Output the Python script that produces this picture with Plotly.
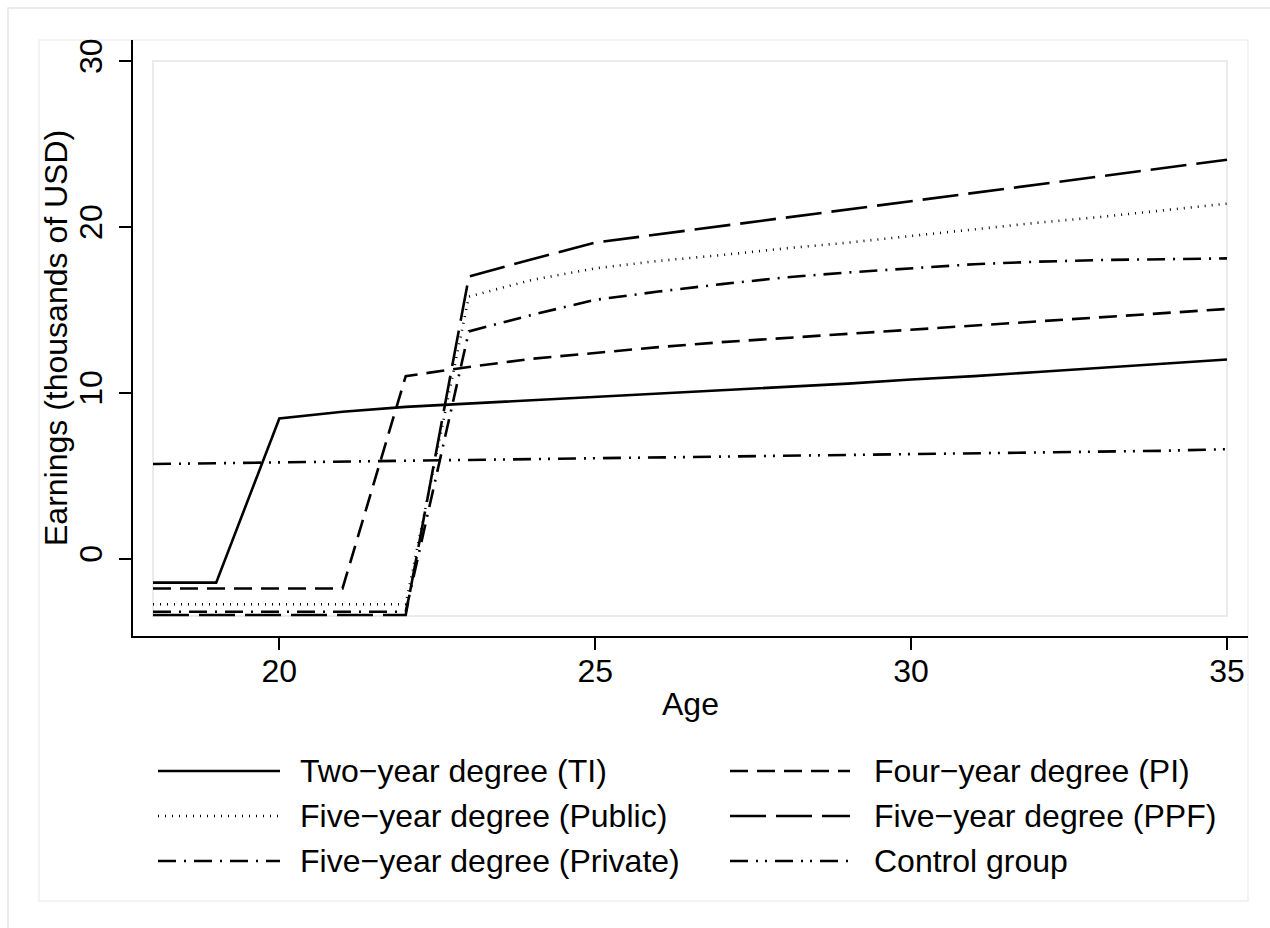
import plotly.graph_objects as go

# Age profile of earnings by degree type (thousands of USD)
ages = list(range(18, 36))

two_year_ti = [-1.45, -1.45, 8.45, 8.85, 9.15, 9.35, 9.55, 9.75, 9.95, 10.15,
               10.35, 10.55, 10.8, 11.0, 11.25, 11.5, 11.75, 12.0]
four_year_pi = [-1.8, -1.8, -1.8, -1.8, 11.0, 11.55, 12.05, 12.4, 12.75, 13.05,
                13.3, 13.55, 13.8, 14.05, 14.3, 14.55, 14.8, 15.05]
five_year_public = [-2.75, -2.75, -2.75, -2.75, -2.75, 15.8, 16.8, 17.5, 17.95, 18.3,
                    18.7, 19.05, 19.45, 19.85, 20.25, 20.6, 21.0, 21.4]
five_year_ppf = [-3.4, -3.4, -3.4, -3.4, -3.4, 17.0, 18.05, 19.05, 19.55, 20.05,
                 20.55, 21.05, 21.55, 22.05, 22.55, 23.05, 23.55, 24.05]
five_year_private = [-3.2, -3.2, -3.2, -3.2, -3.2, 13.7, 14.7, 15.6, 16.1, 16.55,
                     16.95, 17.25, 17.5, 17.75, 17.9, 18.0, 18.05, 18.1]
control_group = [5.7, 5.75, 5.8, 5.85, 5.9, 5.95, 6.0, 6.05, 6.1, 6.15,
                 6.2, 6.25, 6.3, 6.35, 6.4, 6.45, 6.5, 6.6]

series_names = ["Two−year degree (TI)", "Four−year degree (PI)",
                "Five−year degree (Public)", "Five−year degree (PPF)",
                "Five−year degree (Private)", "Control group"]
series_values = [two_year_ti, four_year_pi, five_year_public,
                 five_year_ppf, five_year_private, control_group]
series_dash = ["solid", "18px,9px", "1px,6px", "36px,10px",
               "18px,8px,2px,8px", "18px,8px,2px,7px,2px,8px"]

x_ticks = [20, 25, 30, 35]
y_ticks = [0, 10, 20, 30]

FONT = "Liberation Sans, Arial, Helvetica, sans-serif"
FS = 32
LW = 2.6
W, H = 1270, 928

# Layout in pixels: outer plot area (where the axis lines sit) and inner region
PA_L, PA_R, PA_T, PA_B = 133, 1248, 40, 636
IN_L, IN_R, IN_T, IN_B = 153, 1227, 61, 616
X_LO, X_HI = 18, 35
Y_LO, Y_HI = -3.46, 30

xs = (IN_R - IN_L) / (X_HI - X_LO)
ys = (IN_B - IN_T) / (Y_HI - Y_LO)
x_range = [X_LO - (IN_L - PA_L) / xs, X_HI + (PA_R - IN_R) / xs]
y_range = [Y_LO - (PA_B - IN_B) / ys, Y_HI + (IN_T - PA_T) / ys]


def px(xpix):
    return (xpix - PA_L) / (PA_R - PA_L)


def py(ypix):
    return (PA_B - ypix) / (PA_B - PA_T)


fig = go.Figure()
for name, vals, dash in zip(series_names, series_values, series_dash):
    fig.add_trace(go.Scatter(x=ages, y=vals, mode="lines", name=name,
                             line=dict(color="black", width=LW, dash=dash),
                             showlegend=False))

shapes = []
# outer graph border and graph region border
shapes.append(dict(type="rect", xref="paper", yref="paper",
                   x0=px(8), x1=px(1290), y0=py(950), y1=py(8),
                   line=dict(color="#e6e6e6", width=1.5), layer="below"))
shapes.append(dict(type="rect", xref="paper", yref="paper",
                   x0=px(39), x1=px(1248), y0=py(901), y1=py(40),
                   line=dict(color="#f0f0f0", width=1.5), layer="below"))
# inner plot region box
shapes.append(dict(type="rect", xref="x", yref="y",
                   x0=X_LO, x1=X_HI, y0=Y_LO, y1=Y_HI,
                   line=dict(color="#ebebeb", width=2), layer="below"))

annotations = []
# legend: two columns, three rows
row_y = [771, 816, 861]
col_key = [(158, 280), (730, 850)]
col_text = [298, 872]
for i, name in enumerate(series_names):
    r, c = divmod(i, 2)
    k0, k1 = col_key[c]
    shapes.append(dict(type="line", xref="paper", yref="paper",
                       x0=px(k0), x1=px(k1), y0=py(row_y[r]), y1=py(row_y[r]),
                       line=dict(color="black", width=LW, dash=series_dash[i])))
    annotations.append(dict(xref="paper", yref="paper", x=px(col_text[c]), y=py(row_y[r]),
                            text=name, showarrow=False,
                            xanchor="left", yanchor="middle",
                            font=dict(family=FONT, size=FS, color="black")))

# axis titles
annotations.append(dict(xref="paper", yref="paper", x=0.5, y=py(704),
                        text="Age", showarrow=False, xanchor="center", yanchor="middle",
                        font=dict(family=FONT, size=FS, color="black")))
annotations.append(dict(xref="paper", yref="paper", x=px(56), y=0.5,
                        text="Earnings (thousands of USD)", showarrow=False, textangle=-90,
                        xanchor="center", yanchor="middle",
                        font=dict(family=FONT, size=FS, color="black")))

fig.update_layout(
    width=W, height=H,
    margin=dict(l=PA_L, r=W - PA_R, t=PA_T, b=H - PA_B, pad=0),
    paper_bgcolor="white", plot_bgcolor="white",
    shapes=shapes, annotations=annotations,
    font=dict(family=FONT, size=FS, color="black"),
)
fig.update_xaxes(range=x_range, tickvals=x_ticks, ticks="outside", ticklen=12,
                 tickwidth=1.5, tickcolor="black", showline=True, linecolor="black",
                 linewidth=2, showgrid=False, zeroline=False, ticklabelstandoff=-6,
                 tickfont=dict(family=FONT, size=FS, color="black"))
fig.update_yaxes(range=y_range, tickvals=y_ticks, ticks="outside", ticklen=12,
                 tickwidth=1.5, tickcolor="black", showline=True, linecolor="black",
                 linewidth=2, showgrid=False, zeroline=False, tickangle=-90,
                 ticklabelstandoff=4,
                 tickfont=dict(family=FONT, size=FS, color="black"))

fig.write_html("out.html")
